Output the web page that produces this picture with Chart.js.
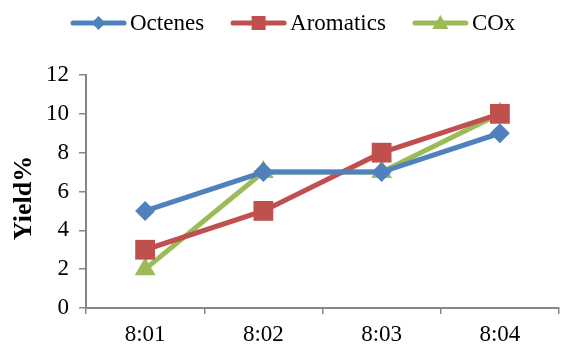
<!DOCTYPE html>
<html>
<head>
<meta charset="utf-8">
<script src="https://cdn.jsdelivr.net/npm/chart.js@4"></script>
<style>
    html, body { margin: 0; padding: 0; background: #fff; overflow: hidden; }
    #wrap { width: 573px; height: 347px; }
</style>
</head>
<body>
<div id="wrap"><canvas id="yieldChart"></canvas></div>
<script>
// Datos
const categories = ['8:01', '8:02', '8:03', '8:04'];
const octenes = [5, 7, 7, 9];
const aromatics = [3, 5, 8, 10];
const cox = [2, 7, 7, 10];
const yTicks = [0, 2, 4, 6, 8, 10, 12];

const BLUE = '#4F81BD';
const RED = '#C0504D';
const GREEN = '#9BBB59';
const AXIS = '#868686';
const FONT = "'Liberation Serif', 'Times New Roman', serif";

const series = [
    { label: 'Octenes', data: octenes, color: BLUE, style: 'rectRot', radius: 10 },
    { label: 'Aromatics', data: aromatics, color: RED, style: 'rect', radius: 14 },
    { label: 'COx', data: cox, color: GREEN, style: 'triangle', radius: 12 }
];

// Leyenda estilo Excel: línea + marcador + texto
const excelLegend = {
    id: 'excelLegend',
    afterDraw(chart) {
        const ctx = chart.ctx;
        const cy = 23;
        let x = 71;
        ctx.save();
        ctx.font = `23px ${FONT}`;
        ctx.textBaseline = 'middle';
        series.forEach(s => {
            ctx.strokeStyle = s.color;
            ctx.fillStyle = s.color;
            ctx.lineWidth = 5;
            ctx.lineCap = 'round';
            ctx.beginPath(); ctx.moveTo(x + 2, cy); ctx.lineTo(x + 53, cy); ctx.stroke();
            const mx = x + 27.5;
            ctx.beginPath();
            if (s.style === 'rectRot') {
                ctx.moveTo(mx, cy - 7); ctx.lineTo(mx + 7, cy); ctx.lineTo(mx, cy + 7); ctx.lineTo(mx - 7, cy);
            } else if (s.style === 'rect') {
                ctx.rect(mx - 7, cy - 7, 14, 14);
            } else {
                ctx.moveTo(mx, cy - 8); ctx.lineTo(mx + 8, cy + 6); ctx.lineTo(mx - 8, cy + 6);
            }
            ctx.closePath(); ctx.fill();
            x += 59;
            ctx.fillStyle = '#000';
            ctx.fillText(s.label, x, cy + 1);
            x += ctx.measureText(s.label).width + 27;
        });
        ctx.restore();
    }
};

new Chart(document.getElementById('yieldChart'), {
    type: 'line',
    data: {
        labels: categories,
        datasets: series.map(s => ({
            label: s.label,
            data: s.data,
            borderColor: s.color,
            backgroundColor: s.color,
            borderWidth: 5,
            pointStyle: s.style,
            pointRadius: s.radius,
            pointBorderWidth: 0,
            pointBackgroundColor: s.color,
            tension: 0
        }))
    },
    options: {
        responsive: true,
        maintainAspectRatio: false,
        animation: false,
        layout: { padding: { top: 75, right: -9, bottom: 0, left: 0 } },
        plugins: {
            tooltip: { enabled: false },
            legend: { display: false }
        },
        scales: {
            x: {
                type: 'category',
                offset: true,
                afterFit: s => { s.height = 39; },
                grid: { offset: true, drawOnChartArea: false, drawTicks: true, tickLength: 6, color: AXIS, lineWidth: 1.5 },
                border: { color: AXIS, width: 2 },
                ticks: { color: '#000', font: { family: FONT, size: 23 }, padding: 7 }
            },
            y: {
                min: 0,
                max: 12,
                afterBuildTicks: axis => { axis.ticks = yTicks.map(v => ({ value: v })); },
                afterFit: s => { s.width = 86; },
                grid: { drawOnChartArea: false, drawTicks: true, tickLength: 7, color: AXIS, lineWidth: 1.5 },
                border: { color: AXIS, width: 2 },
                ticks: { color: '#000', font: { family: FONT, size: 23 }, padding: 10 },
                title: { display: true, text: 'Yield%  ', color: '#000', font: { family: FONT, size: 26, weight: 'bold' }, padding: { top: 9, bottom: 0 } }
            }
        }
    },
    plugins: [excelLegend]
});
</script>
</body>
</html>
